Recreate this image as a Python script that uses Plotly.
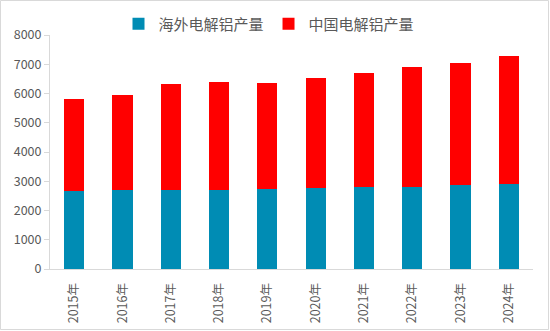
import plotly.graph_objects as go

years = ["2015年", "2016年", "2017年", "2018年", "2019年", "2020年", "2021年", "2022年", "2023年", "2024年"]
overseas = [2650, 2690, 2710, 2715, 2735, 2770, 2790, 2805, 2860, 2895]
china = [3165, 3270, 3615, 3680, 3615, 3750, 3910, 4100, 4185, 4390]

W, H = 550, 331
ml, mr, mt, mb = 50, 17, 35, 62

fig = go.Figure()
fig.add_trace(go.Bar(x=years, y=overseas, name="海外电解铝产量", marker=dict(color="#008CB4", line=dict(width=0))))
fig.add_trace(go.Bar(x=years, y=china, name="中国电解铝产量", marker=dict(color="#FF0000", line=dict(width=0))))

pw = W - ml - mr
ph = H - mt - mb
fig.add_shape(type="rect", xref="paper", yref="paper",
              x0=-(ml - 0.5) / pw, x1=1 + (mr - 1.5) / pw,
              y0=-(mb - 1.5) / ph, y1=1 + (mt - 0.5) / ph,
              line=dict(color="#D9D9D9", width=1), fillcolor="rgba(0,0,0,0)", layer="below")

fig.update_layout(
    width=W, height=H,
    margin=dict(l=ml, r=mr, t=mt, b=mb, autoexpand=False),
    barmode="stack", bargap=0.58,
    plot_bgcolor="white", paper_bgcolor="white",
    font=dict(family="Noto Sans CJK SC, sans-serif", color="#595959", size=12),
    legend=dict(orientation="h", x=(269 - ml) / pw, xanchor="center", y=1 + 11 / ph, yanchor="middle",
                font=dict(size=15, color="#595959"), itemwidth=30, traceorder="normal",
                bgcolor="rgba(0,0,0,0)"),
    xaxis=dict(tickangle=-90, showline=True, linecolor="#D9D9D9", linewidth=1,
               ticks="", showgrid=False, tickfont=dict(size=12.5), automargin=False,
               ticklabelstandoff=8),
    yaxis=dict(range=[0, 8000], dtick=1000, showline=True, linecolor="#D9D9D9", linewidth=1,
               ticks="outside", ticklen=5, tickcolor="#D9D9D9", showgrid=False,
               tickfont=dict(size=12.5), zeroline=False, automargin=False),
)
fig.write_html("out.html")
